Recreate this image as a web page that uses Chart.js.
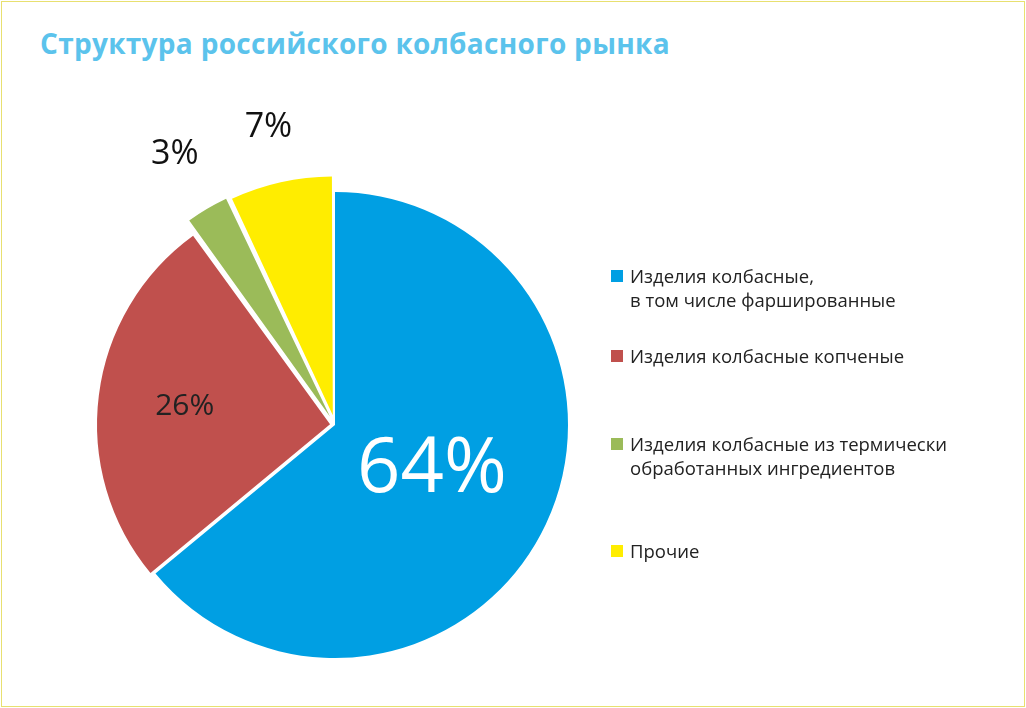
<!DOCTYPE html>
<html><head><meta charset="utf-8">
<script src="https://cdn.jsdelivr.net/npm/chart.js@4"></script>
<style>
body{margin:0;background:#fff;font-family:"Open Sans",sans-serif;}
#frame{position:absolute;left:1px;top:1px;width:1022px;height:704px;border:1px solid #e8e070;}
#title{position:absolute;left:40px;top:24px;font-size:28px;font-weight:bold;color:#5bc3ec;font-family:"Open Sans",sans-serif;letter-spacing:0.3px;}
#wrap{position:absolute;left:0;top:0;width:1026px;height:708px;}
.leg{position:absolute;left:611px;font-size:18.5px;color:#222;line-height:24px;}
.leg span{position:absolute;left:0;top:6px;width:12px;height:12px;}
.leg div{padding-left:19px;}
</style></head><body>
<div id="frame"></div>
<div id="title">Структура российского колбасного рынка</div>
<div id="wrap"><canvas id="c"></canvas></div>
<div id="legend"></div>
<script>
const categories=["Изделия колбасные,\nв том числе фаршированные","Изделия колбасные копченые","Изделия колбасные из термически\nобработанных ингредиентов","Прочие"];
const values=[64,26,3,7];
const colors=["#009fe3","#c0504d","#9bbb59","#ffed00"];
const labelTexts=["64%","26%","3%","7%"];
const legTops=[264,344,432,539];
const lg=document.getElementById('legend');
categories.forEach((c,i)=>{const d=document.createElement('div');d.className='leg';d.style.top=legTops[i]+'px';
d.innerHTML='<span style="background:'+colors[i]+'"></span><div>'+c.split('\n').join('<br>')+'</div>';lg.appendChild(d);});
const lab={id:'lab',afterDatasetsDraw(ch){const ctx=ch.ctx;const meta=ch.getDatasetMeta(0);
const f=[0.46,0.65,1.35,1.31],sz=[76,30,34,34],col=['#fff','#222','#111','#111'];
meta.data.forEach((a,i)=>{const p=a.getProps(['x','y','startAngle','endAngle','outerRadius']);const m=(p.startAngle+p.endAngle)/2;
const r=p.outerRadius*f[i];ctx.save();ctx.font=sz[i]+'px "Open Sans"';ctx.fillStyle=col[i];ctx.textAlign='center';ctx.textBaseline='middle';
ctx.fillText(labelTexts[i],p.x+Math.cos(m)*r,p.y+Math.sin(m)*r);ctx.restore();});}};
new Chart(document.getElementById('c'),{type:'pie',data:{labels:categories,datasets:[{data:values,backgroundColor:colors,borderWidth:0,offset:[0,20,40,40]}]},
options:{responsive:true,maintainAspectRatio:false,animation:false,layout:{padding:{left:82,top:172,right:438,bottom:30}},plugins:{legend:{display:false},tooltip:{enabled:false}}},plugins:[lab]});
</script></body></html>
